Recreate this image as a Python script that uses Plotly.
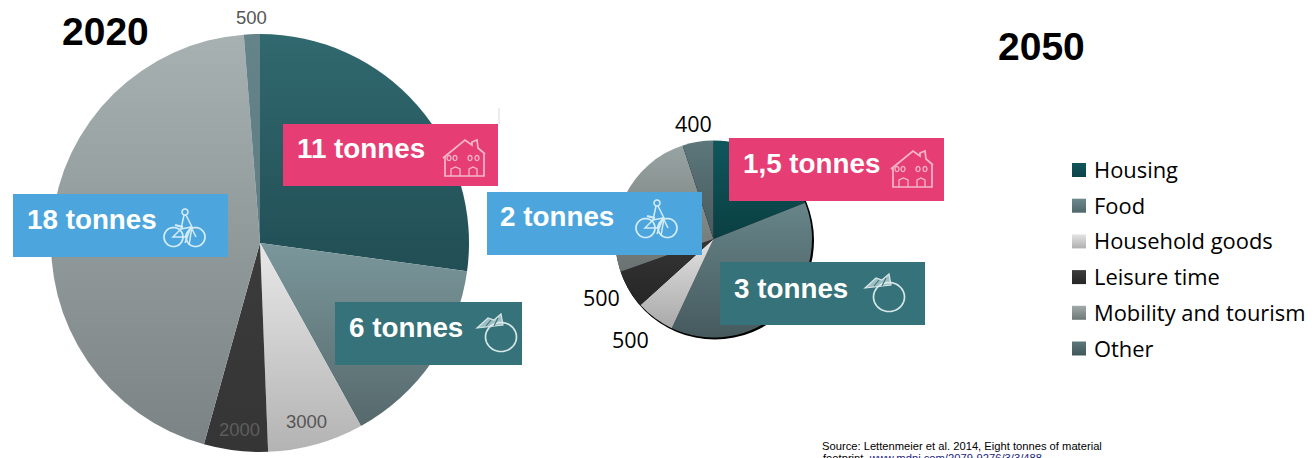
import json
import math
import plotly.graph_objects as go

W, H = 1313, 458

# Material footprint per consumption area, kg per person per year
categories = ["Housing", "Food", "Household goods", "Leisure time", "Mobility and tourism", "Other"]
values_2020 = [11000, 6000, 3000, 2000, 18000, 500]
values_2050 = [1500, 3000, 500, 500, 2000, 400]

# Vertical gradient ends of each wedge (top, bottom)
top_2020 = ["#30696f", "#7a979b", "#e8e8e8", "#3b3b3b", "#a7b1b1", "#64848a"]
bottom_2020 = ["#224e55", "#56696c", "#b3b3b3", "#353535", "#7b8385", "#5f7d82"]
top_2050 = ["#0f575c", "#678589", "#e2e2e2", "#343534", "#98a4a3", "#5c777b"]
bottom_2050 = ["#0a3f42", "#465a5e", "#a9a9a9", "#252625", "#6a7271", "#475a5d"]
top_legend = ["#0f565b", "#6c8a8e", "#e4e4e4", "#3c3c3c", "#a2aaaa", "#5c777b"]
bottom_legend = ["#0c4448", "#4f676b", "#afafaf", "#262626", "#6e7676", "#3f575b"]

callout_2020 = ["11 tonnes", "6 tonnes", "18 tonnes"]
callout_2050 = ["1,5 tonnes", "3 tonnes", "2 tonnes"]
PINK, TEAL, BLUE = "#e63e74", "#357279", "#4ca6dd"
source_lines = ["Source: Lettenmeier et al. 2014, Eight tonnes of material"]


def px(x):
    return x / W


def py(y):
    return 1 - y / H


def poly(points, close=False):
    body = "L".join(f"{px(x):.5f},{py(y):.5f}" for x, y in points)
    return "M" + body + ("Z" if close else "")


def ring(cx, cy, rx, ry=None, n=40):
    ry = rx if ry is None else ry
    pts = [(cx + rx * math.cos(2 * math.pi * i / n), cy + ry * math.sin(2 * math.pi * i / n)) for i in range(n)]
    return poly(pts, close=True)


shapes = []
annotations = []


def add_shape(**kw):
    shapes.append(dict(xref="paper", yref="paper", **kw))
    return len(shapes) - 1


def add_rect(x0, y0, x1, y1, color, layer="above"):
    return add_shape(type="rect", x0=px(x0), x1=px(x1), y0=py(y1), y1=py(y0),
                     fillcolor=color, line_width=0, layer=layer)


def add_text(x, y, text, size, color="#000000", family="Liberation Sans", bold=False, anchor="left"):
    annotations.append(dict(
        xref="paper", yref="paper", x=px(x), y=py(y), text=f"<b>{text}</b>" if bold else text,
        showarrow=False, xanchor=anchor, yanchor="middle", align="left",
        borderpad=0, font=dict(family=family, size=size, color=color),
    ))


def stroke(path, color, width=1.7, fill="rgba(0,0,0,0)"):
    add_shape(type="path", path=path, line=dict(color=color, width=width), fillcolor=fill)


def house(x, y, color):
    # Outline, roof with chimney, four windows and two doors; 42 wide by 37 high
    stroke(poly([(x + 2, y + 16), (x + 2, y + 36), (x + 41, y + 36), (x + 41, y + 14)]), color)
    stroke(poly([(x, y + 18), (x + 22, y), (x + 29, y + 5), (x + 29, y + 2), (x + 34, y),
                 (x + 35, y + 8), (x + 42, y + 14)]), color)
    for wx in (6, 12, 27, 34):
        stroke(ring(x + wx, y + 18, 2, 2.6, 12), color, 1.3)
    for dx, dw in ((8, 9), (26, 8)):
        stroke(poly([(x + dx, y + 36), (x + dx, y + 29), (x + dx + dw / 2, y + 27),
                     (x + dx + dw, y + 29), (x + dx + dw, y + 36)]), color, 1.3)


def bicycle(x, y, color):
    # Two wheels, a frame and the rider; 43 wide by 39 high
    stroke(ring(x + 10.5, y + 28, 9.5), color)
    stroke(ring(x + 32.5, y + 28, 9.5), color)
    stroke(ring(x + 22, y + 3, 3, 3, 14), color, 1.5)
    stroke(poly([(x + 21, y + 6), (x + 18, y + 20), (x + 10, y + 28), (x + 22, y + 28),
                 (x + 28, y + 18), (x + 33, y + 28)]), color, 1.5)
    stroke(poly([(x + 23, y + 6), (x + 29, y + 18), (x + 26, y + 36)]), color, 1.5)
    stroke(poly([(x + 18, y + 20), (x + 28, y + 18), (x + 22, y + 34)]), color, 1.5)
    stroke(poly([(x + 12, y + 16), (x + 20, y + 18)]), color, 2)


def apple(x, y, color):
    # Fruit outline with a shaded leaf; 40 wide by 38 high
    stroke(ring(x + 24, y + 23, 15.5, 14.5), color, 1.7)
    stroke(poly([(x, y + 14), (x + 11, y + 4), (x + 17, y + 6), (x + 24, y), (x + 26, y + 11)], close=True),
           color, 1.2, fill="rgba(225,238,240,0.62)")
    stroke(poly([(x + 9, y + 12), (x + 14, y + 6)]), TEAL, 1.1)
    stroke(poly([(x + 17, y + 12), (x + 21, y + 4)]), TEAL, 1.1)


def callout(x0, y0, x1, y1, color, text, text_x, text_y):
    add_rect(x0, y0, x1, y1, color)
    add_text(text_x, text_y, text, 27.8, "#ffffff", bold=True)


def pie_domain(cx, cy, r):
    return dict(x=[px(cx - r), px(cx + r)], y=[py(cy + r), py(cy - r)])


def wedge_trace(values, top, domain, name):
    # Flat base colour; the gradient script below refines it
    return go.Pie(
        labels=categories, values=values, sort=False, direction="clockwise", rotation=0,
        marker=dict(colors=top, line=dict(width=0)), textinfo="none", showlegend=False,
        domain=domain, name=name, hovertemplate="%{label}: %{value}<extra>" + name + "</extra>",
    )


# Dark rim behind the smaller pie
add_shape(type="circle", x0=px(615.5), x1=px(814), y0=py(339.5), y1=py(141),
          fillcolor="#000000", line_width=0, layer="below")

callout(283, 124, 498, 186, PINK, callout_2020[0], 296, 148.5)
house(443, 140, "#f4b6ca")
callout(335, 302, 522, 365, TEAL, callout_2020[1], 348, 327.5)
apple(477, 314, "#d7e6e8")
callout(13, 194, 228, 257, BLUE, callout_2020[2], 26, 219.5)
bicycle(163, 209, "#d5ecf9")

callout(729, 138, 944, 201, PINK, callout_2050[0], 742, 164)
house(891, 151, "#f4b6ca")
callout(720, 262, 925, 325, TEAL, callout_2050[1], 733, 288)
apple(865, 274, "#d7e6e8")
callout(487, 192, 702, 255, BLUE, callout_2050[2], 499, 217)
bicycle(635, 200, "#d5ecf9")

# Faint edge beside the upper pink panel
add_rect(498, 108, 500, 124, "#ececec")

add_text(61, 32, "2020", 39, bold=True)
add_text(997, 47, "2050", 39, bold=True)

# Wedge value labels
grey = "#565656"
add_text(251, 18, str(values_2020[5]), 18.5, grey, anchor="center")
add_text(306, 421, str(values_2020[2]), 18.5, grey, anchor="center")
add_text(239, 429, str(values_2020[3]), 18.5, "#5d5d5d", anchor="center")
add_text(693, 124, str(values_2050[5]), 21.5, family="Open Sans", anchor="center")
add_text(601, 297, str(values_2050[3]), 21.5, family="Open Sans", anchor="center")
add_text(630, 339, str(values_2050[2]), 21.5, family="Open Sans", anchor="center")

# Hand-spaced key so the rows keep their wide pitch
swatches = []
for i, name in enumerate(categories):
    cy = 170 + i * 35.7
    swatches.append(add_rect(1072, cy - 7, 1086, cy + 7, top_legend[i]))
    add_text(1093, cy - 0.5, name, 21.9, family="Open Sans")

add_text(821, 446, source_lines[0], 11.2)
annotations.append(dict(
    xref="paper", yref="paper", x=px(821), y=py(458), xanchor="left", yanchor="middle", showarrow=False,
    text='footprint, <span style="text-decoration:underline;fill:#1c1c7c">www.mdpi.com/2079-9276/3/3/488</span>',
    font=dict(family="Liberation Sans", size=11.2, color="#000000"),
))

fig = go.Figure([
    wedge_trace(values_2020, top_2020, pie_domain(260, 243, 209), "2020"),
    wedge_trace(values_2050, top_2050, pie_domain(713.5, 239, 98.5), "2050"),
])
fig.update_layout(
    width=W, height=H, margin=dict(l=0, r=0, t=0, b=0),
    paper_bgcolor="#ffffff", plot_bgcolor="#ffffff",
    shapes=shapes, annotations=annotations, showlegend=False,
)

# Plotly pies only take flat fills, so the vertical gradients are added as SVG defs once drawn
gradient_data = json.dumps(dict(
    pies=[[top_2020, bottom_2020], [top_2050, bottom_2050]],
    legend=[top_legend, bottom_legend],
    swatches=swatches,
))
post_script = """
var gd = document.getElementById('{plot_id}');
var spec = %s;
var svg = gd.querySelector('svg.main-svg');
var ns = 'http://www.w3.org/2000/svg';
var defs = document.createElementNS(ns, 'defs');
svg.insertBefore(defs, svg.firstChild);
function grad(id, a, b) {
  var g = document.createElementNS(ns, 'linearGradient');
  g.setAttribute('id', id);
  g.setAttribute('x1', '0'); g.setAttribute('y1', '0');
  g.setAttribute('x2', '0'); g.setAttribute('y2', '1');
  [[0, a], [1, b]].forEach(function (s) {
    var stop = document.createElementNS(ns, 'stop');
    stop.setAttribute('offset', s[0]);
    stop.setAttribute('stop-color', s[1]);
    g.appendChild(stop);
  });
  defs.appendChild(g);
  return 'url(#' + id + ')';
}
gd.querySelectorAll('.pielayer .trace').forEach(function (tr, p) {
  tr.querySelectorAll('.slice path.surface').forEach(function (el, i) {
    el.style.setProperty('fill', grad('w' + p + '_' + i, spec.pies[p][0][i], spec.pies[p][1][i]));
  });
});
spec.swatches.forEach(function (idx, i) {
  gd.querySelectorAll('.shapelayer path[data-index="' + idx + '"]').forEach(function (el) {
    el.style.setProperty('fill', grad('k' + i, spec.legend[0][i], spec.legend[1][i]));
  });
});
""" % gradient_data

fig.write_html("out.html", config=dict(displayModeBar=False), post_script=post_script)
